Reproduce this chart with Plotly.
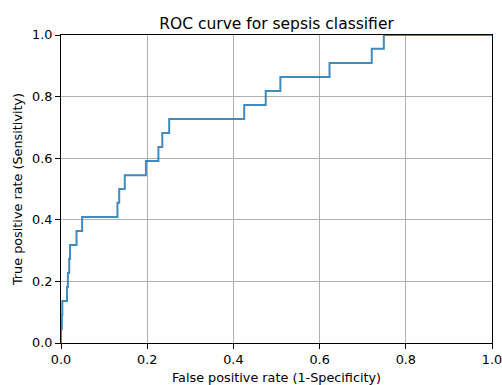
import plotly.graph_objects as go

# ROC curve vertices (step points)
fpr = [0.0, 0.0, 0.002, 0.003, 0.014, 0.016, 0.019, 0.021, 0.036, 0.049, 0.131, 0.135,
       0.148, 0.197, 0.226, 0.235, 0.251, 0.425, 0.475, 0.509, 0.623, 0.721, 0.749, 1.0]
tpr = [0.0, 0.045, 0.091, 0.136, 0.182, 0.227, 0.273, 0.318, 0.364, 0.409, 0.455, 0.5,
       0.545, 0.591, 0.636, 0.682, 0.727, 0.773, 0.818, 0.864, 0.909, 0.955, 1.0, 1.0]
tick_vals = [0.0, 0.2, 0.4, 0.6, 0.8, 1.0]
tick_text = ["0.0", "0.2", "0.4", "0.6", "0.8", "1.0"]

title_text = "ROC curve for sepsis classifier"
x_label = "False positive rate (1-Specificity)"
y_label = "True positive rate (Sensitivity)"

FONT = "DejaVu Sans"
TICK_SIZE = 12.8
LABEL_SIZE = 12.8
TITLE_SIZE = 15.5

W, H = 502, 385

fig = go.Figure()
fig.add_trace(go.Scatter(
    x=fpr, y=tpr, mode="lines",
    line=dict(color="#1f77b4", width=2, shape="hv"),
    opacity=0.85,
    showlegend=False, hoverinfo="x+y",
))

axis_common = dict(
    range=[0, 1],
    tickmode="array",
    tickvals=tick_vals,
    ticktext=tick_text,
    ticks="outside",
    ticklen=5,
    tickwidth=1,
    tickcolor="black",
    showline=True,
    mirror=True,
    linecolor="black",
    linewidth=1,
    showgrid=True,
    gridcolor="#b0b0b0",
    gridwidth=1,
    zeroline=False,
    automargin=False,
    ticklabeloverflow="allow",
    tickfont=dict(family=FONT, size=TICK_SIZE, color="black"),
)

fig.update_xaxes(**axis_common,
                 title=dict(text=x_label, font=dict(family=FONT, size=LABEL_SIZE, color="black"),
                            standoff=6))
fig.update_yaxes(**axis_common,
                 title=dict(text=y_label, font=dict(family=FONT, size=LABEL_SIZE, color="black"),
                            standoff=6))

fig.update_layout(
    width=W, height=H,
    margin=dict(l=61, r=10, t=35, b=42, pad=0),
    paper_bgcolor="white",
    plot_bgcolor="white",
    title=dict(text=title_text, xref="paper", x=0.5, xanchor="center",
               yref="container", y=1 - 23.5 / H, yanchor="middle",
               font=dict(family=FONT, size=TITLE_SIZE, color="black")),
    font=dict(family=FONT, color="black"),
)

# remove the default page margin so the figure fills the window exactly
fig.write_html(
    "out.html",
    config={"displayModeBar": False},
    post_script="document.body.style.margin='0';document.body.style.overflow='hidden';",
)
